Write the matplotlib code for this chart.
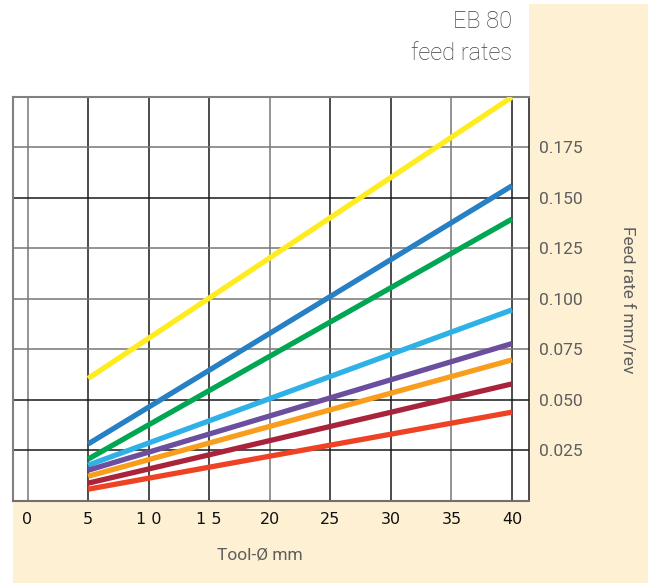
import matplotlib.pyplot as plt
from matplotlib.patches import Rectangle

# werkzeug-durchmesser (mm) an den enden der linien
durchmesser = [5, 40]

# vorschub f mm/U je linie: wert bei 5 mm und bei 40 mm
linien = {
    'gelb':      [0.0605, 0.2000],
    'blau':      [0.0280, 0.1560],
    'gruen':     [0.0205, 0.1395],
    'hellblau':  [0.0175, 0.0945],
    'lila':      [0.0150, 0.0778],
    'orange':    [0.0120, 0.0697],
    'dunkelrot': [0.0086, 0.0578],
    'rot':       [0.0056, 0.0438],
}
farben = {
    'gelb': '#FFEC1E', 'blau': '#2780C4', 'gruen': '#00A651', 'hellblau': '#2DB1E6',
    'lila': '#6B4E9E', 'orange': '#F99D1C', 'dunkelrot': '#A9243A', 'rot': '#EF4123',
}

x_ticks = [0, 5, 10, 15, 20, 25, 30, 35, 40]
x_labels = ['0', '5', '1 0', '1 5', '20', '25', '30', '35', '40']
y_ticks = [0.025, 0.050, 0.075, 0.100, 0.125, 0.150, 0.175]
y_labels = ['0.025', '0.050', '0.075', '0.100', '0.125', '0.150', '0.175']

creme = '#FEF0D3'
W, H = 648, 583

fig = plt.figure(figsize=(W / 100, H / 100), dpi=100)
fig.patch.set_facecolor('white')

# cremefarbene streifen rechts und unten
fig.add_artist(Rectangle((529 / W, 0), 1, 1 - 4 / H, transform=fig.transFigure,
                         facecolor=creme, edgecolor='none', zorder=0))
fig.add_artist(Rectangle((13 / W, 0), 1, 1 - 501 / H, transform=fig.transFigure,
                         facecolor=creme, edgecolor='none', zorder=0))

ax = fig.add_axes([13 / W, 1 - 500.5 / H, (529 - 13) / W, (500.5 - 97) / H])
ax.set_facecolor('white')
ax.set_xlim(-1.2, 41.4)
ax.set_ylim(0, 0.2)

# gitter: manche linien im original grau, manche schwarz
grau_x = [0, 20, 35]
for xv in x_ticks:
    ax.axvline(xv, color='#777777' if xv in grau_x else '#1a1a1a', lw=1.1, zorder=1)
grau_y = [0.075, 0.100, 0.125, 0.175]
for yv in y_ticks:
    ax.axhline(yv, color='#777777' if yv in grau_y else '#1a1a1a', lw=1.1, zorder=1)

for name, werte in linien.items():
    ax.plot(durchmesser, werte, color=farben[name], lw=3.8, solid_capstyle='butt', zorder=3)

for s in ['left', 'top']:
    ax.spines[s].set_color('#808080')
    ax.spines[s].set_linewidth(1.5)
ax.spines['bottom'].set_color('#707070')
ax.spines['bottom'].set_linewidth(1.5)
ax.spines['right'].set_color('#1a1a1a')
ax.spines['right'].set_linewidth(1.1)

ax.set_xticks(x_ticks)
ax.set_xticklabels(x_labels, fontsize=11.5, color='#111111', family='Liberation Sans Narrow')
ax.tick_params(axis='x', length=0, pad=8)

ax.yaxis.tick_right()
ax.set_yticks(y_ticks)
ax.set_yticklabels(y_labels, fontsize=12.5, color='#5e5e5e', family='Roboto')
ax.tick_params(axis='y', length=0, pad=7)

fig.text(512 / W, 1 - 22 / H, 'EB 80', ha='right', va='center', fontsize=17,
         color='#404040', family='Roboto', fontweight='light')
fig.text(512 / W, 1 - 54 / H, 'feed rates', ha='right', va='center', fontsize=17,
         color='#404040', family='Roboto', fontweight='light')
fig.text(260 / W, 1 - 555 / H, 'Tool-Ø mm', ha='center', va='center', fontsize=12.5,
         color='#5e5e5e', family='Roboto')
fig.text(627 / W, 1 - 300 / H, 'Feed rate f mm/rev', ha='center', va='center', fontsize=12.5,
         rotation=-90, color='#5e5e5e', family='Roboto')

fig.savefig('out.png', dpi=100)
